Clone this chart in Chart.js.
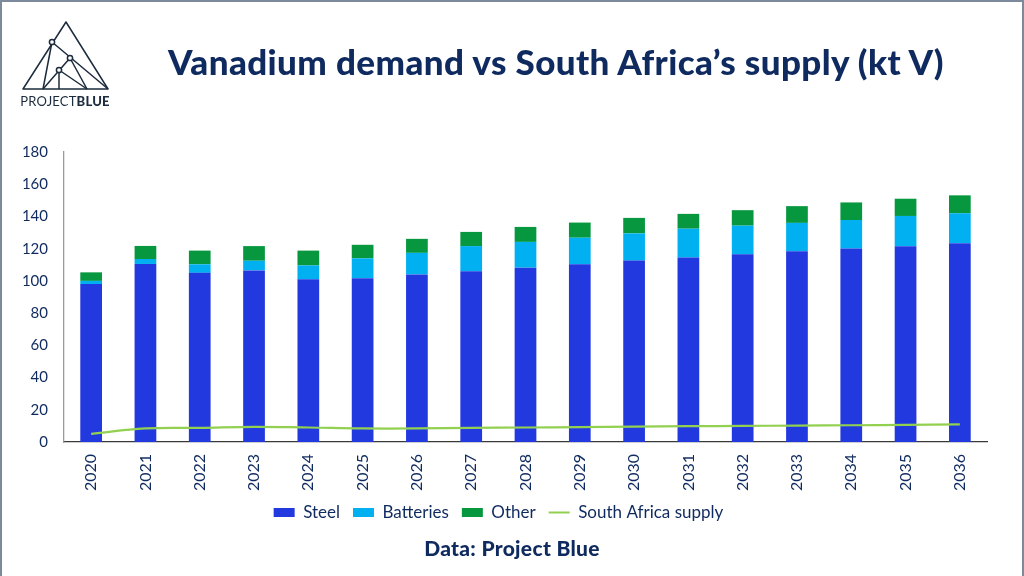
<!DOCTYPE html>
<html>
<head>
<meta charset="utf-8">
<script src="https://cdn.jsdelivr.net/npm/chart.js@4.4.1/dist/chart.umd.min.js"></script>
<style>
  html, body { margin: 0; padding: 0; background: #fff; }
  #frame { position: relative; width: 1024px; height: 576px; overflow: hidden; background: #fff; }
  #border { position: absolute; left: 0; top: 0; width: 1020px; height: 580px; border: 2px solid #7d8a9c; pointer-events: none; }
  #title { position: absolute; left: 0; top: 40px; width: 1112px; text-align: center; font-family: Lato, sans-serif; font-weight: 900; font-size: 35px; letter-spacing: 0.4px; color: #0f2a5f; white-space: nowrap; }
  #footer { position: absolute; left: 0; top: 535px; width: 1024px; text-align: center; font-family: Lato, sans-serif; font-weight: 900; font-size: 21px; letter-spacing: 0.3px; color: #0f2a5f; }
  #logo { position: absolute; left: 0; top: 0; }
  #chartWrap { position: absolute; left: 0; top: 0; width: 1024px; height: 576px; }
</style>
</head>
<body>
<div id="frame">
  <div id="chartWrap"><canvas id="c" width="1024" height="576"></canvas></div>
  <svg id="logo" width="130" height="115" viewBox="0 0 130 115">
    <g fill="none" stroke="#1c2b3d" stroke-width="1.5" stroke-linejoin="round">
      <polygon points="66,22 23,89 108,89"/>
      <polyline points="43,89 52,42 108,89"/>
      <line x1="70" y1="58" x2="43" y2="89"/>
      <line x1="59" y1="70" x2="59" y2="89"/>
      <line x1="59" y1="70" x2="87" y2="89"/>
      <line x1="70" y1="58" x2="87" y2="89"/>
      <circle cx="52" cy="42" r="2.6" fill="#fff"/>
      <circle cx="70" cy="58" r="2.6" fill="#fff"/>
      <circle cx="59" cy="70" r="2.6" fill="#fff"/>
    </g>
    <text x="65" y="106" text-anchor="middle" font-family="Lato, sans-serif" font-size="13" fill="#1c2b3d" letter-spacing="0.2">PROJECT<tspan font-weight="900">BLUE</tspan></text>
  </svg>
  <div id="title">Vanadium demand vs South Africa’s supply (kt V)</div>
  <div id="footer">Data: Project Blue</div>
  <div id="border"></div>
</div>
<script>
const years = ['2020','2021','2022','2023','2024','2025','2026','2027','2028','2029','2030','2031','2032','2033','2034','2035','2036'];
const steel = [98, 110.5, 105, 106.5, 101, 101.7, 104, 106, 108.2, 110.3, 112.6, 114.5, 116.5, 118.4, 120.1, 121.5, 123.4];
const batteries = [2, 3.1, 5.3, 6, 8.6, 12.3, 13.4, 15.6, 16, 16.5, 16.9, 17.9, 17.8, 17.6, 17.7, 18.8, 18.6];
const other = [5.3, 8.1, 8.5, 9.1, 9.2, 8.4, 8.7, 8.8, 9.3, 9.4, 9.6, 9.2, 9.6, 10.4, 10.9, 10.7, 11.1];
const southAfricaSupply = [5, 8.4, 8.8, 9.4, 9, 8.4, 8.4, 8.8, 9, 9.2, 9.6, 9.8, 10, 10.2, 10.4, 10.6, 11];
const yTicks = [0, 20, 40, 60, 80, 100, 120, 140, 160, 180];

const navy = '#0f2a5f';
Chart.defaults.font.family = 'Lato, sans-serif';
Chart.defaults.color = navy;

new Chart(document.getElementById('c'), {
  type: 'bar',
  data: {
    labels: years,
    datasets: [
      { label: 'Steel', data: steel, backgroundColor: '#2339e0', stack: 'demand', barPercentage: 0.4, categoryPercentage: 1, order: 1 },
      { label: 'Batteries', data: batteries, backgroundColor: '#00b0f0', stack: 'demand', barPercentage: 0.4, categoryPercentage: 1, order: 1 },
      { label: 'Other', data: other, backgroundColor: '#07983f', stack: 'demand', barPercentage: 0.4, categoryPercentage: 1, order: 1 },
      { type: 'line', label: 'South Africa supply', data: southAfricaSupply, borderColor: '#92d050', backgroundColor: '#92d050', borderWidth: 2.2, pointRadius: 0, tension: 0.4, stack: 'supply', order: 0 }
    ]
  },
  options: {
    responsive: false,
    animation: false,
    layout: { padding: { top: 152, left: 10, right: 37, bottom: 45 } },
    plugins: {
      tooltip: { enabled: false },
      legend: {
        position: 'bottom',
        labels: {
          usePointStyle: true,
          pointStyleWidth: 21,
          boxHeight: 9,
          padding: 13,
          font: { size: 17 },
          color: navy,
          sort: (a, b) => a.datasetIndex - b.datasetIndex,
          generateLabels: (chart) => {
            const items = Chart.defaults.plugins.legend.labels.generateLabels(chart);
            items.forEach(it => {
              if (it.datasetIndex === 3) {
                it.pointStyle = 'line';
                it.lineWidth = 2;
                it.strokeStyle = '#92d050';
              } else {
                it.pointStyle = 'rect';
                it.lineWidth = 0;
              }
            });
            return items;
          }
        }
      }
    },
    scales: {
      x: {
        stacked: true,
        afterFit: (axis) => { axis.height = 49; },
        grid: { display: false, drawTicks: false },
        border: { display: true, color: '#3a3a3a', width: 1.3 },
        ticks: { minRotation: 90, maxRotation: 90, font: { size: 16 }, color: navy, padding: 12 }
      },
      y: {
        stacked: true,
        min: 0, max: 180,
        afterBuildTicks: (axis) => { axis.ticks = yTicks.map(v => ({ value: v })); },
        afterFit: (axis) => { axis.width = 54; },
        grid: { display: false, drawTicks: false },
        border: { display: true, color: '#9a9a9a', width: 1.3 },
        ticks: { font: { size: 15 }, color: navy, padding: 16 }
      }
    }
  }
});
</script>
</body>
</html>
